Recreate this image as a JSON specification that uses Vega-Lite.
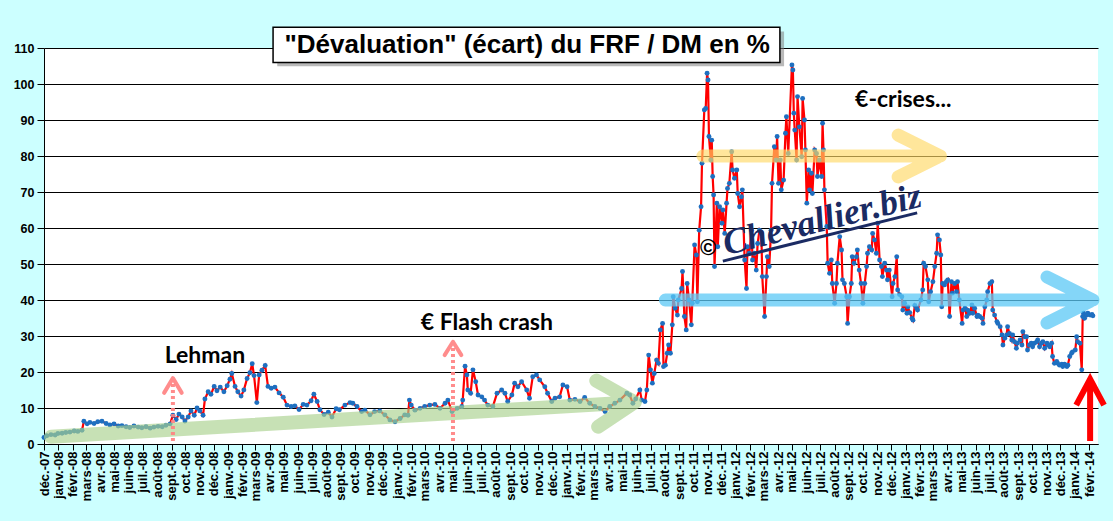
{
  "$schema": "https://vega.github.io/schema/vega-lite/v6.json",
  "width": 1054,
  "height": 396,
  "autosize": {"type": "none"},
  "padding": {"left": 44, "top": 48, "right": 15, "bottom": 77},
  "background": "#CCFFFF",
  "config": {"view": {"fill": "white", "stroke": null}, "font": "Liberation Sans"},
  "datasets": {
    "series": [
      {"d":"2007-12-01","v":1.8},{"d":"2007-12-07","v":2.3},{"d":"2007-12-16","v":2.6},{"d":"2007-12-25","v":2.5},{"d":"2007-12-31","v":2.9},
      {"d":"2008-01-09","v":3.0},{"d":"2008-01-17","v":3.2},{"d":"2008-01-26","v":3.3},{"d":"2008-02-04","v":3.6},{"d":"2008-02-12","v":3.5},
      {"d":"2008-02-21","v":3.8},{"d":"2008-02-25","v":6.3},{"d":"2008-03-03","v":5.6},{"d":"2008-03-09","v":6.0},{"d":"2008-03-18","v":5.7},
      {"d":"2008-03-26","v":6.2},{"d":"2008-04-04","v":6.3},{"d":"2008-04-13","v":5.7},{"d":"2008-04-21","v":5.3},{"d":"2008-04-30","v":5.6},
      {"d":"2008-05-09","v":5.0},{"d":"2008-05-17","v":5.1},{"d":"2008-05-26","v":4.8},{"d":"2008-06-03","v":4.6},{"d":"2008-06-12","v":5.0},
      {"d":"2008-06-21","v":4.7},{"d":"2008-06-29","v":4.5},{"d":"2008-07-08","v":4.8},{"d":"2008-07-17","v":4.4},{"d":"2008-07-25","v":4.7},
      {"d":"2008-08-03","v":4.9},{"d":"2008-08-12","v":4.8},{"d":"2008-08-20","v":5.2},{"d":"2008-08-29","v":5.6},{"d":"2008-09-04","v":8.0},
      {"d":"2008-09-11","v":6.8},{"d":"2008-09-17","v":8.3},{"d":"2008-09-24","v":7.5},{"d":"2008-09-30","v":6.4},{"d":"2008-10-07","v":7.5},
      {"d":"2008-10-13","v":9.2},{"d":"2008-10-20","v":8.0},{"d":"2008-10-26","v":10.0},{"d":"2008-11-01","v":9.2},{"d":"2008-11-08","v":8.0},
      {"d":"2008-11-12","v":12.5},{"d":"2008-11-19","v":14.5},{"d":"2008-11-25","v":13.8},{"d":"2008-12-02","v":16.0},{"d":"2008-12-08","v":14.8},
      {"d":"2008-12-15","v":15.8},{"d":"2008-12-23","v":14.5},{"d":"2008-12-30","v":16.2},{"d":"2009-01-05","v":18.0},{"d":"2009-01-09","v":19.6},
      {"d":"2009-01-16","v":16.0},{"d":"2009-01-22","v":14.5},{"d":"2009-01-29","v":13.3},{"d":"2009-02-04","v":15.0},{"d":"2009-02-11","v":18.2},
      {"d":"2009-02-17","v":19.8},{"d":"2009-02-22","v":22.3},{"d":"2009-02-26","v":19.0},{"d":"2009-03-04","v":11.5},{"d":"2009-03-09","v":19.2},
      {"d":"2009-03-15","v":20.5},{"d":"2009-03-22","v":21.8},{"d":"2009-03-28","v":16.0},{"d":"2009-04-04","v":15.5},{"d":"2009-04-12","v":15.8},
      {"d":"2009-04-21","v":14.2},{"d":"2009-04-30","v":13.0},{"d":"2009-05-08","v":10.8},{"d":"2009-05-17","v":10.4},{"d":"2009-05-25","v":10.6},
      {"d":"2009-06-03","v":9.6},{"d":"2009-06-12","v":11.0},{"d":"2009-06-20","v":10.8},{"d":"2009-06-29","v":12.0},{"d":"2009-07-05","v":13.8},
      {"d":"2009-07-12","v":11.8},{"d":"2009-07-18","v":9.5},{"d":"2009-07-27","v":8.2},{"d":"2009-08-05","v":8.8},{"d":"2009-08-13","v":7.5},
      {"d":"2009-08-22","v":9.8},{"d":"2009-08-29","v":9.5},{"d":"2009-09-10","v":10.8},{"d":"2009-09-21","v":11.5},{"d":"2009-09-27","v":11.3},
      {"d":"2009-10-06","v":10.4},{"d":"2009-10-16","v":9.0},{"d":"2009-10-23","v":9.4},{"d":"2009-11-03","v":8.1},{"d":"2009-11-13","v":9.0},
      {"d":"2009-11-24","v":9.2},{"d":"2009-12-05","v":8.1},{"d":"2009-12-16","v":6.7},{"d":"2009-12-27","v":6.2},{"d":"2010-01-07","v":7.1},
      {"d":"2010-01-17","v":8.1},{"d":"2010-01-24","v":8.0},{"d":"2010-01-27","v":12.2},{"d":"2010-01-31","v":10.8},{"d":"2010-02-08","v":9.4},
      {"d":"2010-02-19","v":9.9},{"d":"2010-03-01","v":10.4},{"d":"2010-03-12","v":10.8},{"d":"2010-03-23","v":11.0},{"d":"2010-04-03","v":9.9},
      {"d":"2010-04-14","v":11.3},{"d":"2010-04-20","v":12.2},{"d":"2010-04-29","v":9.0},{"d":"2010-05-10","v":9.9},{"d":"2010-05-20","v":10.4},
      {"d":"2010-05-22","v":12.2},{"d":"2010-05-27","v":21.6},{"d":"2010-05-31","v":19.2},{"d":"2010-06-02","v":15.0},{"d":"2010-06-08","v":14.1},
      {"d":"2010-06-13","v":20.6},{"d":"2010-06-19","v":17.3},{"d":"2010-06-24","v":13.6},{"d":"2010-07-02","v":13.1},{"d":"2010-07-08","v":12.2},
      {"d":"2010-07-15","v":10.8},{"d":"2010-07-26","v":10.4},{"d":"2010-08-04","v":14.1},{"d":"2010-08-14","v":15.0},{"d":"2010-08-21","v":14.1},
      {"d":"2010-08-27","v":11.8},{"d":"2010-09-05","v":13.6},{"d":"2010-09-11","v":16.9},{"d":"2010-09-18","v":15.9},{"d":"2010-09-26","v":17.3},
      {"d":"2010-10-07","v":15.0},{"d":"2010-10-13","v":12.7},{"d":"2010-10-20","v":18.7},{"d":"2010-10-28","v":19.2},{"d":"2010-11-04","v":17.8},
      {"d":"2010-11-15","v":15.9},{"d":"2010-11-21","v":14.1},{"d":"2010-11-30","v":11.8},{"d":"2010-12-07","v":12.7},{"d":"2010-12-17","v":13.1},
      {"d":"2010-12-24","v":16.4},{"d":"2011-01-02","v":15.9},{"d":"2011-01-08","v":12.2},{"d":"2011-01-19","v":12.4},{"d":"2011-01-30","v":11.8},
      {"d":"2011-02-09","v":12.9},{"d":"2011-02-20","v":11.3},{"d":"2011-03-03","v":10.4},{"d":"2011-03-14","v":9.9},{"d":"2011-03-25","v":9.0},
      {"d":"2011-04-04","v":10.4},{"d":"2011-04-15","v":11.3},{"d":"2011-04-26","v":12.2},{"d":"2011-05-11","v":14.1},{"d":"2011-05-17","v":13.6},
      {"d":"2011-05-24","v":11.3},{"d":"2011-05-30","v":12.5},{"d":"2011-06-08","v":15.0},{"d":"2011-06-12","v":12.2},{"d":"2011-06-19","v":11.8},
      {"d":"2011-06-23","v":15.0},{"d":"2011-06-27","v":24.7},{"d":"2011-07-01","v":20.6},{"d":"2011-07-05","v":16.9},{"d":"2011-07-09","v":19.6},
      {"d":"2011-07-14","v":23.3},{"d":"2011-07-18","v":22.4},{"d":"2011-07-22","v":31.7},{"d":"2011-07-27","v":33.5},{"d":"2011-07-29","v":21.5},
      {"d":"2011-08-02","v":21.9},{"d":"2011-08-06","v":25.2},{"d":"2011-08-09","v":27.5},{"d":"2011-08-13","v":25.2},{"d":"2011-08-17","v":33.1},
      {"d":"2011-08-19","v":40.9},{"d":"2011-08-23","v":37.7},{"d":"2011-08-28","v":35.8},{"d":"2011-08-30","v":40.0},{"d":"2011-09-06","v":43.2},
      {"d":"2011-09-08","v":47.9},{"d":"2011-09-12","v":35.4},{"d":"2011-09-16","v":31.7},{"d":"2011-09-18","v":44.6},{"d":"2011-09-22","v":40.0},
      {"d":"2011-09-27","v":33.1},{"d":"2011-09-29","v":39.1},{"d":"2011-10-04","v":55.3},{"d":"2011-10-08","v":52.5},{"d":"2011-10-10","v":39.5},
      {"d":"2011-10-14","v":59.4},{"d":"2011-10-18","v":65.9},{"d":"2011-10-20","v":78.0},{"d":"2011-10-25","v":92.8},{"d":"2011-10-28","v":93.2},
      {"d":"2011-10-31","v":103.0},{"d":"2011-11-02","v":101.1},{"d":"2011-11-04","v":85.4},{"d":"2011-11-08","v":78.9},{"d":"2011-11-10","v":84.4},
      {"d":"2011-11-12","v":74.3},{"d":"2011-11-14","v":69.2},{"d":"2011-11-16","v":49.3},{"d":"2011-11-21","v":66.9},{"d":"2011-11-23","v":54.8},
      {"d":"2011-11-27","v":65.9},{"d":"2011-12-02","v":61.3},{"d":"2011-12-04","v":65.0},{"d":"2011-12-08","v":58.5},{"d":"2011-12-12","v":66.9},
      {"d":"2011-12-14","v":71.0},{"d":"2011-12-18","v":72.4},{"d":"2011-12-23","v":81.2},{"d":"2011-12-25","v":76.1},{"d":"2011-12-29","v":73.8},
      {"d":"2012-01-03","v":76.1},{"d":"2012-01-05","v":69.6},{"d":"2012-01-09","v":65.9},{"d":"2012-01-13","v":68.7},{"d":"2012-01-15","v":70.6},
      {"d":"2012-01-20","v":51.1},{"d":"2012-01-24","v":43.2},{"d":"2012-01-26","v":54.8},{"d":"2012-01-30","v":53.0},{"d":"2012-02-04","v":59.4},
      {"d":"2012-02-06","v":51.1},{"d":"2012-02-10","v":53.0},{"d":"2012-02-14","v":48.3},{"d":"2012-02-17","v":55.7},{"d":"2012-02-21","v":59.4},
      {"d":"2012-02-25","v":58.5},{"d":"2012-02-27","v":46.5},{"d":"2012-03-03","v":35.4},{"d":"2012-03-07","v":46.5},{"d":"2012-03-09","v":52.0},
      {"d":"2012-03-13","v":49.3},{"d":"2012-03-17","v":59.4},{"d":"2012-03-19","v":72.4},{"d":"2012-03-24","v":82.6},{"d":"2012-03-28","v":78.9},
      {"d":"2012-03-30","v":85.4},{"d":"2012-04-02","v":72.4},{"d":"2012-04-06","v":78.9},{"d":"2012-04-08","v":70.6},{"d":"2012-04-13","v":73.3},
      {"d":"2012-04-17","v":86.3},{"d":"2012-04-19","v":90.9},{"d":"2012-04-23","v":80.7},{"d":"2012-05-01","v":105.3},{"d":"2012-05-03","v":103.9},
      {"d":"2012-05-05","v":91.9},{"d":"2012-05-07","v":87.2},{"d":"2012-05-11","v":78.9},{"d":"2012-05-13","v":96.5},{"d":"2012-05-17","v":88.1},
      {"d":"2012-05-22","v":79.8},{"d":"2012-05-24","v":96.0},{"d":"2012-05-28","v":90.0},{"d":"2012-05-30","v":81.7},{"d":"2012-06-02","v":66.9},
      {"d":"2012-06-06","v":76.1},{"d":"2012-06-08","v":70.6},{"d":"2012-06-12","v":75.2},{"d":"2012-06-14","v":69.6},{"d":"2012-06-19","v":81.7},
      {"d":"2012-06-23","v":80.7},{"d":"2012-06-25","v":74.3},{"d":"2012-06-29","v":78.9},{"d":"2012-07-04","v":74.3},{"d":"2012-07-06","v":89.1},
      {"d":"2012-07-08","v":81.7},{"d":"2012-07-10","v":70.6},{"d":"2012-07-15","v":60.4},{"d":"2012-07-17","v":50.2},{"d":"2012-07-21","v":47.4},
      {"d":"2012-07-25","v":51.1},{"d":"2012-07-27","v":44.6},{"d":"2012-08-01","v":39.1},{"d":"2012-08-05","v":44.6},{"d":"2012-08-07","v":50.2},
      {"d":"2012-08-12","v":57.6},{"d":"2012-08-16","v":53.9},{"d":"2012-08-18","v":45.6},{"d":"2012-08-22","v":44.6},{"d":"2012-08-27","v":40.9},
      {"d":"2012-08-29","v":33.5},{"d":"2012-09-02","v":40.9},{"d":"2012-09-06","v":44.6},{"d":"2012-09-08","v":52.0},{"d":"2012-09-12","v":50.2},
      {"d":"2012-09-17","v":52.0},{"d":"2012-09-19","v":53.9},{"d":"2012-09-23","v":48.3},{"d":"2012-09-27","v":44.6},{"d":"2012-10-01","v":39.1},
      {"d":"2012-10-05","v":44.6},{"d":"2012-10-09","v":49.3},{"d":"2012-10-11","v":53.0},{"d":"2012-10-15","v":54.8},{"d":"2012-10-20","v":53.9},
      {"d":"2012-10-22","v":58.5},{"d":"2012-10-26","v":56.7},{"d":"2012-10-30","v":53.0},{"d":"2012-11-02","v":61.3},{"d":"2012-11-06","v":51.1},
      {"d":"2012-11-10","v":49.3},{"d":"2012-11-12","v":46.5},{"d":"2012-11-17","v":50.2},{"d":"2012-11-21","v":48.3},{"d":"2012-11-23","v":45.6},
      {"d":"2012-11-27","v":48.3},{"d":"2012-12-03","v":40.9},{"d":"2012-12-05","v":44.6},{"d":"2012-12-09","v":46.5},{"d":"2012-12-13","v":52.0},
      {"d":"2012-12-15","v":42.8},{"d":"2012-12-19","v":41.5},{"d":"2012-12-24","v":40.9},{"d":"2012-12-26","v":37.2},{"d":"2012-12-30","v":39.1},
      {"d":"2013-01-04","v":36.3},{"d":"2013-01-06","v":38.1},{"d":"2013-01-10","v":36.5},{"d":"2013-01-15","v":34.9},{"d":"2013-01-17","v":34.4},
      {"d":"2013-01-21","v":38.5},{"d":"2013-01-25","v":37.7},{"d":"2013-01-27","v":37.2},{"d":"2013-02-03","v":40.0},{"d":"2013-02-07","v":42.8},
      {"d":"2013-02-09","v":50.2},{"d":"2013-02-13","v":49.3},{"d":"2013-02-18","v":45.6},{"d":"2013-02-20","v":39.5},{"d":"2013-02-24","v":42.3},
      {"d":"2013-03-01","v":45.1},{"d":"2013-03-05","v":49.3},{"d":"2013-03-09","v":53.0},{"d":"2013-03-11","v":58.1},{"d":"2013-03-15","v":56.7},
      {"d":"2013-03-18","v":52.5},{"d":"2013-03-20","v":38.1},{"d":"2013-03-22","v":44.6},{"d":"2013-03-26","v":44.2},{"d":"2013-03-30","v":45.1},
      {"d":"2013-04-02","v":45.6},{"d":"2013-04-06","v":35.4},{"d":"2013-04-10","v":45.1},{"d":"2013-04-12","v":41.9},{"d":"2013-04-17","v":44.6},
      {"d":"2013-04-21","v":42.3},{"d":"2013-04-23","v":45.1},{"d":"2013-04-27","v":40.0},{"d":"2013-05-03","v":33.5},{"d":"2013-05-05","v":37.2},
      {"d":"2013-05-09","v":37.7},{"d":"2013-05-13","v":35.4},{"d":"2013-05-15","v":37.2},{"d":"2013-05-19","v":36.3},{"d":"2013-05-24","v":38.6},
      {"d":"2013-05-26","v":36.3},{"d":"2013-05-30","v":37.7},{"d":"2013-06-04","v":35.4},{"d":"2013-06-06","v":35.8},{"d":"2013-06-10","v":35.4},
      {"d":"2013-06-15","v":34.9},{"d":"2013-06-17","v":33.5},{"d":"2013-06-21","v":38.1},{"d":"2013-06-25","v":40.0},{"d":"2013-06-27","v":42.3},
      {"d":"2013-07-02","v":44.6},{"d":"2013-07-06","v":45.1},{"d":"2013-07-08","v":37.2},{"d":"2013-07-12","v":35.8},{"d":"2013-07-17","v":34.0},
      {"d":"2013-07-19","v":33.5},{"d":"2013-07-24","v":32.6},{"d":"2013-07-28","v":30.3},{"d":"2013-07-30","v":27.5},{"d":"2013-08-03","v":29.4},
      {"d":"2013-08-07","v":30.3},{"d":"2013-08-09","v":32.6},{"d":"2013-08-13","v":30.7},{"d":"2013-08-18","v":28.9},{"d":"2013-08-20","v":30.3},
      {"d":"2013-08-24","v":28.4},{"d":"2013-08-28","v":26.6},{"d":"2013-08-30","v":28.0},{"d":"2013-09-05","v":28.9},{"d":"2013-09-09","v":27.5},
      {"d":"2013-09-11","v":31.2},{"d":"2013-09-15","v":29.8},{"d":"2013-09-19","v":29.8},{"d":"2013-09-21","v":26.1},{"d":"2013-09-25","v":27.5},
      {"d":"2013-09-29","v":28.0},{"d":"2013-10-02","v":27.0},{"d":"2013-10-06","v":28.0},{"d":"2013-10-11","v":28.4},{"d":"2013-10-13","v":28.9},
      {"d":"2013-10-17","v":27.0},{"d":"2013-10-21","v":28.0},{"d":"2013-10-24","v":28.4},{"d":"2013-10-28","v":26.6},{"d":"2013-11-02","v":28.0},
      {"d":"2013-11-04","v":27.5},{"d":"2013-11-08","v":27.0},{"d":"2013-11-12","v":28.0},{"d":"2013-11-14","v":24.3},{"d":"2013-11-18","v":22.4},
      {"d":"2013-11-23","v":22.9},{"d":"2013-11-25","v":22.4},{"d":"2013-11-29","v":21.9},{"d":"2013-12-04","v":22.2},{"d":"2013-12-06","v":21.5},
      {"d":"2013-12-10","v":22.2},{"d":"2013-12-15","v":21.5},{"d":"2013-12-17","v":21.9},{"d":"2013-12-21","v":24.3},{"d":"2013-12-25","v":25.2},
      {"d":"2013-12-27","v":25.6},{"d":"2014-01-02","v":26.1},{"d":"2014-01-05","v":29.8},{"d":"2014-01-07","v":28.4},{"d":"2014-01-12","v":28.0},
      {"d":"2014-01-16","v":20.6},{"d":"2014-01-18","v":35.4},{"d":"2014-01-20","v":36.3},{"d":"2014-01-22","v":34.9},{"d":"2014-01-27","v":35.8},
      {"d":"2014-01-29","v":36.3},{"d":"2014-02-03","v":35.8},{"d":"2014-02-07","v":36.0},{"d":"2014-02-09","v":35.6}
    ],
    "green": [
      {"d":"2007-12-16","v":2.0,"k":1},{"d":"2011-05-28","v":11.6,"k":2},{"d":"2011-03-06","v":17.6,"k":3},
      {"d":"2011-05-28","v":11.6,"k":4},{"d":"2011-03-10","v":4.8,"k":5}
    ],
    "yellow": [
      {"d":"2011-10-22","v":80,"k":1},{"d":"2013-03-17","v":80,"k":2},{"d":"2012-12-16","v":85.8,"k":3},
      {"d":"2013-03-17","v":80,"k":4},{"d":"2012-12-16","v":74.2,"k":5}
    ],
    "blue": [
      {"d":"2011-08-02","v":40,"k":1},{"d":"2014-02-09","v":40,"k":2},{"d":"2013-11-02","v":46.4,"k":3},
      {"d":"2014-02-09","v":40,"k":4},{"d":"2013-11-02","v":33.6,"k":5}
    ],
    "pinkShaft": [
      {"d":"2008-09-04","v":0.8,"k":1,"g":"lehman"},{"d":"2008-09-04","v":17.0,"k":2,"g":"lehman"},
      {"d":"2010-05-01","v":0.8,"k":1,"g":"flash"},{"d":"2010-05-01","v":27.0,"k":2,"g":"flash"}
    ],
    "pinkHead": [
      {"d":"2008-08-16","v":14.2,"k":1,"g":"lehman"},{"d":"2008-09-04","v":18.3,"k":2,"g":"lehman"},{"d":"2008-09-23","v":14.2,"k":3,"g":"lehman"},
      {"d":"2010-04-13","v":24.7,"k":1,"g":"flash"},{"d":"2010-05-01","v":28.4,"k":2,"g":"flash"},{"d":"2010-05-19","v":24.7,"k":3,"g":"flash"}
    ],
    "red": [
      {"d":"2014-02-03","v":0.8,"k":1},{"d":"2014-02-03","v":18.0,"k":2},{"d":"2014-01-04","v":10.8,"k":3},
      {"d":"2014-02-03","v":18.0,"k":4},{"d":"2014-03-05","v":10.8,"k":5}
    ],
    "notes": [
      {"d":"2008-11-12","v":24.4,"t":"Lehman"},
      {"d":"2010-07-13","v":33.6,"t":"€ Flash crash"},
      {"d":"2012-12-27","v":95.6,"t":"€-crises..."}
    ],
    "titleShadow": [{"d":"2009-04-17","d2":"2012-04-14","v":114.6,"v2":104.9}],
    "titleBox": [{"d":"2009-04-08","d2":"2012-04-05","v":115.75,"v2":106.0}],
    "titleText": [{"d":"2010-10-08","v":110.8,"t":"\"Dévaluation\" (écart) du FRF / DM en %"}],
    "watermark": [{"d":"2012-07-05","v":62.2,"t":"Chevallier.biz"}],
    "copyright": [{"d":"2011-11-02","v":54.4,"t":"©"}],
    "underline": [{"d":"2011-12-04","d2":"2013-01-26","v":50.8,"v2":64.2}]
  },
  "encoding": {
    "x": {
      "field": "d",
      "type": "temporal",
      "scale": {"domain": [{"year": 2007, "month": 12, "date": 1}, {"year": 2014, "month": 2, "date": 20}]},
      "axis": {
        "title": null,
        "grid": false,
        "tickCount": {"interval": "month", "step": 1},
        "labelAngle": 270,
        "labelExpr": "['janv.','févr.','mars','avr.','mai','juin','juil.','août','sept.','oct.','nov.','déc.'][month(datum.value)] + '-' + timeFormat(datum.value, '%y')",
        "labelFont": "Liberation Sans",
        "labelFontWeight": "bold",
        "labelFontSize": 13,
        "labelColor": "black",
        "labelPadding": 1,
        "labelOverlap": false,
        "labelFlush": false,
        "labelBound": false,
        "tickSize": 6,
        "tickColor": "black",
        "domainColor": "black",
        "domainWidth": 1
      }
    },
    "y": {
      "field": "v",
      "type": "quantitative",
      "scale": {"domain": [0, 110], "nice": false},
      "axis": {
        "title": null,
        "values": [0, 10, 20, 30, 40, 50, 60, 70, 80, 90, 100, 110],
        "grid": true,
        "gridColor": "black",
        "gridOpacity": 1,
        "gridWidth": 1,
        "domainColor": "black",
        "domainWidth": 1,
        "tickColor": "black",
        "tickSize": 7,
        "labelFont": "Liberation Sans",
        "labelFontWeight": "bold",
        "labelFontSize": 12.5,
        "labelColor": "black",
        "labelPadding": 3
      }
    }
  },
  "layer": [
    {"data": {"name": "series"}, "mark": {"type": "line", "color": "#FF0000", "strokeWidth": 2.2}},
    {"data": {"name": "series"}, "mark": {"type": "circle", "color": "#1E6FC0", "size": 24, "opacity": 1}},
    {"data": {"name": "green"}, "mark": {"type": "line", "color": "#A9D18E", "strokeWidth": 14, "strokeCap": "round", "strokeJoin": "round", "strokeOpacity": 0.65}, "encoding": {"order": {"field": "k"}}},
    {"data": {"name": "yellow"}, "mark": {"type": "line", "color": "#FFD966", "strokeWidth": 13, "strokeCap": "round", "strokeJoin": "round", "strokeOpacity": 0.65}, "encoding": {"order": {"field": "k"}}},
    {"data": {"name": "blue"}, "mark": {"type": "line", "color": "#5BC8F5", "strokeWidth": 13, "strokeCap": "round", "strokeJoin": "round", "strokeOpacity": 0.75}, "encoding": {"order": {"field": "k"}}},
    {"data": {"name": "pinkShaft"}, "mark": {"type": "line", "color": "#FF7F7F", "strokeWidth": 4, "strokeDash": [3, 3], "strokeOpacity": 0.9}, "encoding": {"order": {"field": "k"}, "detail": {"field": "g"}}},
    {"data": {"name": "pinkHead"}, "mark": {"type": "line", "color": "#FF7F7F", "strokeWidth": 4, "strokeCap": "round", "strokeJoin": "round", "strokeOpacity": 0.9}, "encoding": {"order": {"field": "k"}, "detail": {"field": "g"}}},
    {"data": {"name": "red"}, "mark": {"type": "line", "color": "#FF0000", "strokeWidth": 6, "strokeCap": "butt", "strokeJoin": "miter"}, "encoding": {"order": {"field": "k"}}},
    {"data": {"name": "notes"}, "mark": {"type": "text", "font": "Lato", "fontWeight": "bold", "fontSize": 23, "color": "black", "align": "center", "baseline": "middle"}, "encoding": {"text": {"field": "t"}}},
    {"data": {"name": "titleShadow"}, "mark": {"type": "rect", "color": "#7F7F7F", "opacity": 0.55}, "encoding": {"x2": {"field": "d2"}, "y2": {"field": "v2"}}},
    {"data": {"name": "titleBox"}, "mark": {"type": "rect", "fill": "white", "stroke": "black", "strokeWidth": 1.5}, "encoding": {"x2": {"field": "d2"}, "y2": {"field": "v2"}}},
    {"data": {"name": "titleText"}, "mark": {"type": "text", "font": "Liberation Sans", "fontWeight": "bold", "fontSize": 26, "color": "black", "align": "center", "baseline": "middle"}, "encoding": {"text": {"field": "t"}}},
    {"data": {"name": "underline"}, "mark": {"type": "rule", "color": "#1B2B63", "strokeWidth": 3}, "encoding": {"x2": {"field": "d2"}, "y2": {"field": "v2"}}},
    {"data": {"name": "watermark"}, "mark": {"type": "text", "font": "Liberation Serif", "fontStyle": "italic", "fontWeight": "bold", "fontSize": 36, "color": "#1B2B63", "angle": -14, "align": "center", "baseline": "middle"}, "encoding": {"text": {"field": "t"}}},
    {"data": {"name": "copyright"}, "mark": {"type": "text", "font": "Liberation Sans", "fontWeight": "bold", "fontSize": 22, "color": "black", "align": "center", "baseline": "middle"}, "encoding": {"text": {"field": "t"}}}
  ]
}
